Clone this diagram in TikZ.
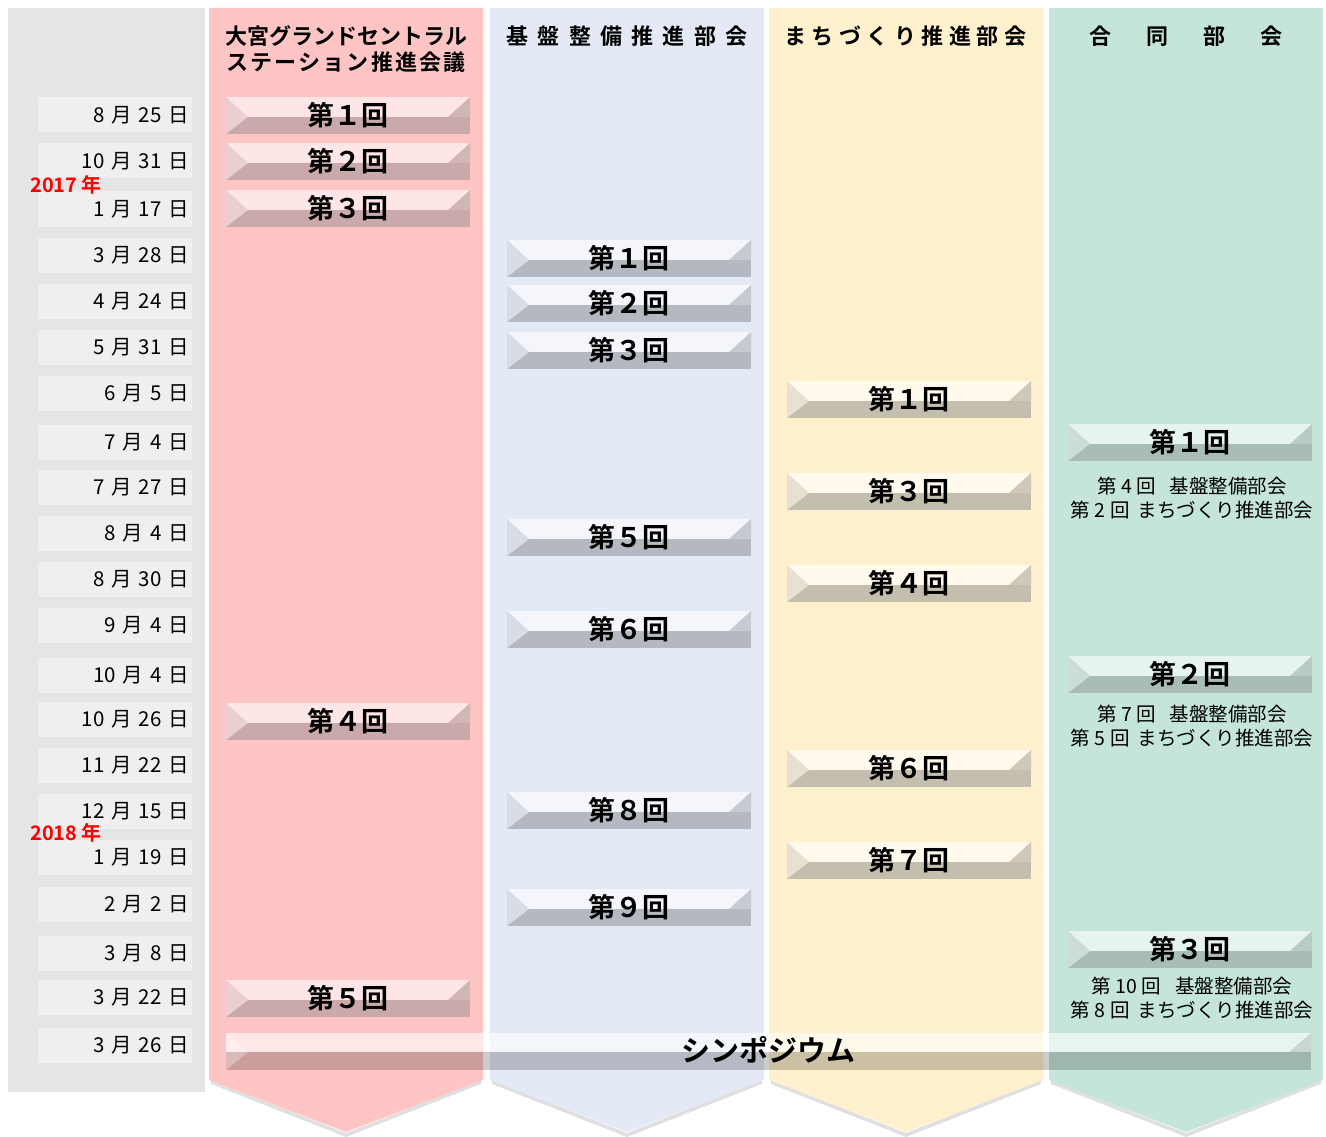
\documentclass[tikz,border=0pt]{standalone}
\usepackage{fontspec}
\setmainfont{Noto Sans CJK JP}[BoldFont={Noto Sans CJK JP Bold}]
\usepackage{tikz}
\usetikzlibrary{positioning}

\definecolor{colgray}{HTML}{E5E5E5}
\definecolor{boxgray}{HTML}{EFEFEF}
\definecolor{colpink}{HTML}{FFC5C5}
\definecolor{colblue}{HTML}{E3E9F5}
\definecolor{colyell}{HTML}{FFF1CD}
\definecolor{colgreen}{HTML}{C5E4DC}
\definecolor{pinktop}{HTML}{FFE6E6}
\definecolor{pinkbot}{HTML}{C9A9A9}
\definecolor{pinklft}{HTML}{E9CFCF}
\definecolor{pinkrgt}{HTML}{D2B6B6}
\definecolor{bluetop}{HTML}{F4F6FB}
\definecolor{bluebot}{HTML}{B3B8C1}
\definecolor{bluelft}{HTML}{D8DCE4}
\definecolor{bluergt}{HTML}{C6CAD2}
\definecolor{yelltop}{HTML}{FFF9EE}
\definecolor{yellbot}{HTML}{C4BEAE}
\definecolor{yelllft}{HTML}{E8E1D2}
\definecolor{yellrgt}{HTML}{D0C9B9}
\definecolor{greentop}{HTML}{E6F3EF}
\definecolor{greenbot}{HTML}{A9BDB8}
\definecolor{greenlft}{HTML}{CCDDD8}
\definecolor{greenrgt}{HTML}{B8CCC7}
\definecolor{yearred}{HTML}{FF0000}

\tikzset{
  datebox/.style={fill=boxgray, minimum height=35pt, text width=148pt, inner xsep=3pt,
    inner ysep=0pt, align=right, font=\fontsize{20.5pt}{22pt}\selectfont},
  yearlbl/.style={anchor=west, text=yearred, inner sep=0pt, font=\fontsize{20pt}{22pt}\selectfont\bfseries},
  headlbl/.style={align=center, inner sep=0pt, font=\fontsize{22pt}{26pt}\selectfont\bfseries},
  btntext/.style={inner sep=0pt, font=\fontsize{27pt}{30pt}\selectfont\bfseries},
  subtext/.style={align=center, inner sep=0pt, font=\fontsize{19.5pt}{24pt}\selectfont},
}

% bevel button: name, left x, centre y, colour set, text
\newcommand{\kaiBtn}[5]{%
  \fill[#4bot] (#2,{#3-18}) rectangle ({#2+244},{#3+19});
  \fill[#4top] (#2,{#3-18}) rectangle ({#2+244},{#3+2});
  \fill[#4lft] (#2,{#3-18}) -- ({#2+22},{#3+2}) -- (#2,{#3+19}) -- cycle;
  \fill[#4rgt] ({#2+244},{#3-18}) -- ({#2+222},{#3+2}) -- ({#2+244},{#3+2}) -- cycle;
  \node[btntext] (#1) at ({#2+122},#3) {#5};
}

\begin{document}
\begin{tikzpicture}[x=1pt,y=-1pt]
  \useasboundingbox (0,0) rectangle (1326,1137);
  % columns
  \fill[colgray] (8,8) rectangle (205,1092);
  \foreach \xl/\xm/\xr/\c in {209/346/483/colpink, 490/627/764/colblue, 769/906/1043/colyell, 1049/1186/1323/colgreen}{
    \fill[black, opacity=.12] (\xl+2,1084) -- (\xm,1137) -- (\xr-2,1084) -- (\xr-2,1080) -- (\xm,1133) -- (\xl+2,1080) -- cycle;
    \fill[\c] (\xl,8) -- (\xr,8) -- (\xr,1080) -- (\xm,1132) -- (\xl,1080) -- cycle;
  }
  % headers
  \node[headlbl] (hkaigi) at (346,49) {大宮グランドセントラル\\{\addfontfeatures{LetterSpace=10}ステーション推進会議}};
  \node[headlbl] (hkiban) at (627,36) {\addfontfeatures{LetterSpace=42}基盤整備推進部会};
  \node[headlbl] (hmachi) at (905,36) {\addfontfeatures{LetterSpace=25}まちづくり推進部会};
  \node[headlbl] (hgodo) at (1186,36) {合\hspace{35pt}同\hspace{35pt}部\hspace{35pt}会};
  % dates
  \foreach \y/\t [count=\i] in {115/8 月 25 日, 161/10 月 31 日, 209/1 月 17 日, 255/3 月 28 日,
      301/4 月 24 日, 347/5 月 31 日, 393/6 月 5 日, 442/7 月 4 日, 487/7 月 27 日, 533/8 月 4 日,
      579/8 月 30 日, 625/9 月 4 日, 675/10 月 4 日, 719/10 月 26 日, 765/11 月 22 日, 811/12 月 15 日,
      857/1 月 19 日, 904/2 月 2 日, 953/3 月 8 日, 997/3 月 22 日, 1045/3 月 26 日}
    \node[datebox] (d\i) at (115,\y) {\t};
  \node[yearlbl] (y2017) at (30,185) {2017 年};
  \node[yearlbl] (y2018) at (30,833) {2018 年};
  % 大宮GCS推進会議
  \kaiBtn{kaigi1}{226}{115}{pink}{第１回}
  \kaiBtn{kaigi2}{226}{161}{pink}{第２回}
  \kaiBtn{kaigi3}{226}{208}{pink}{第３回}
  \kaiBtn{kaigi4}{226}{721}{pink}{第４回}
  \kaiBtn{kaigi5}{226}{998}{pink}{第５回}
  % 基盤整備推進部会
  \kaiBtn{kiban1}{507}{258}{blue}{第１回}
  \kaiBtn{kiban2}{507}{303}{blue}{第２回}
  \kaiBtn{kiban3}{507}{350}{blue}{第３回}
  \kaiBtn{kiban5}{507}{537}{blue}{第５回}
  \kaiBtn{kiban6}{507}{629}{blue}{第６回}
  \kaiBtn{kiban8}{507}{810}{blue}{第８回}
  \kaiBtn{kiban9}{507}{907}{blue}{第９回}
  % まちづくり推進部会
  \kaiBtn{machi1}{787}{399}{yell}{第１回}
  \kaiBtn{machi3}{787}{491}{yell}{第３回}
  \kaiBtn{machi4}{787}{583}{yell}{第４回}
  \kaiBtn{machi6}{787}{768}{yell}{第６回}
  \kaiBtn{machi7}{787}{860}{yell}{第７回}
  % 合同部会
  \kaiBtn{godo1}{1068}{442}{green}{第１回}
  \kaiBtn{godo2}{1068}{674}{green}{第２回}
  \kaiBtn{godo3}{1068}{949}{green}{第３回}
  \node[subtext] (godo1s) at (1192,498) {第 4 回\hspace{14pt}基盤整備部会\\第 2 回\hspace{8pt}まちづくり推進部会};
  \node[subtext] (godo2s) at (1192,726) {第 7 回\hspace{14pt}基盤整備部会\\第 5 回\hspace{8pt}まちづくり推進部会};
  \node[subtext] (godo3s) at (1192,998) {第 10 回\hspace{14pt}基盤整備部会\\第 8 回\hspace{8pt}まちづくり推進部会};
  % シンポジウム
  \fill[black, opacity=.2] (226,1052) rectangle (1311,1070);
  \fill[white, opacity=.6] (226,1033) rectangle (1311,1052);
  \fill[white, opacity=.3] (226,1033) -- (248,1052) -- (226,1070) -- cycle;
  \fill[black, opacity=.12] (1311,1033) -- (1289,1052) -- (1311,1052) -- cycle;
  \node[btntext, font=\fontsize{29pt}{32pt}\selectfont\bfseries] (sympo) at (768,1050) {シンポジウム};
\end{tikzpicture}
\end{document}
